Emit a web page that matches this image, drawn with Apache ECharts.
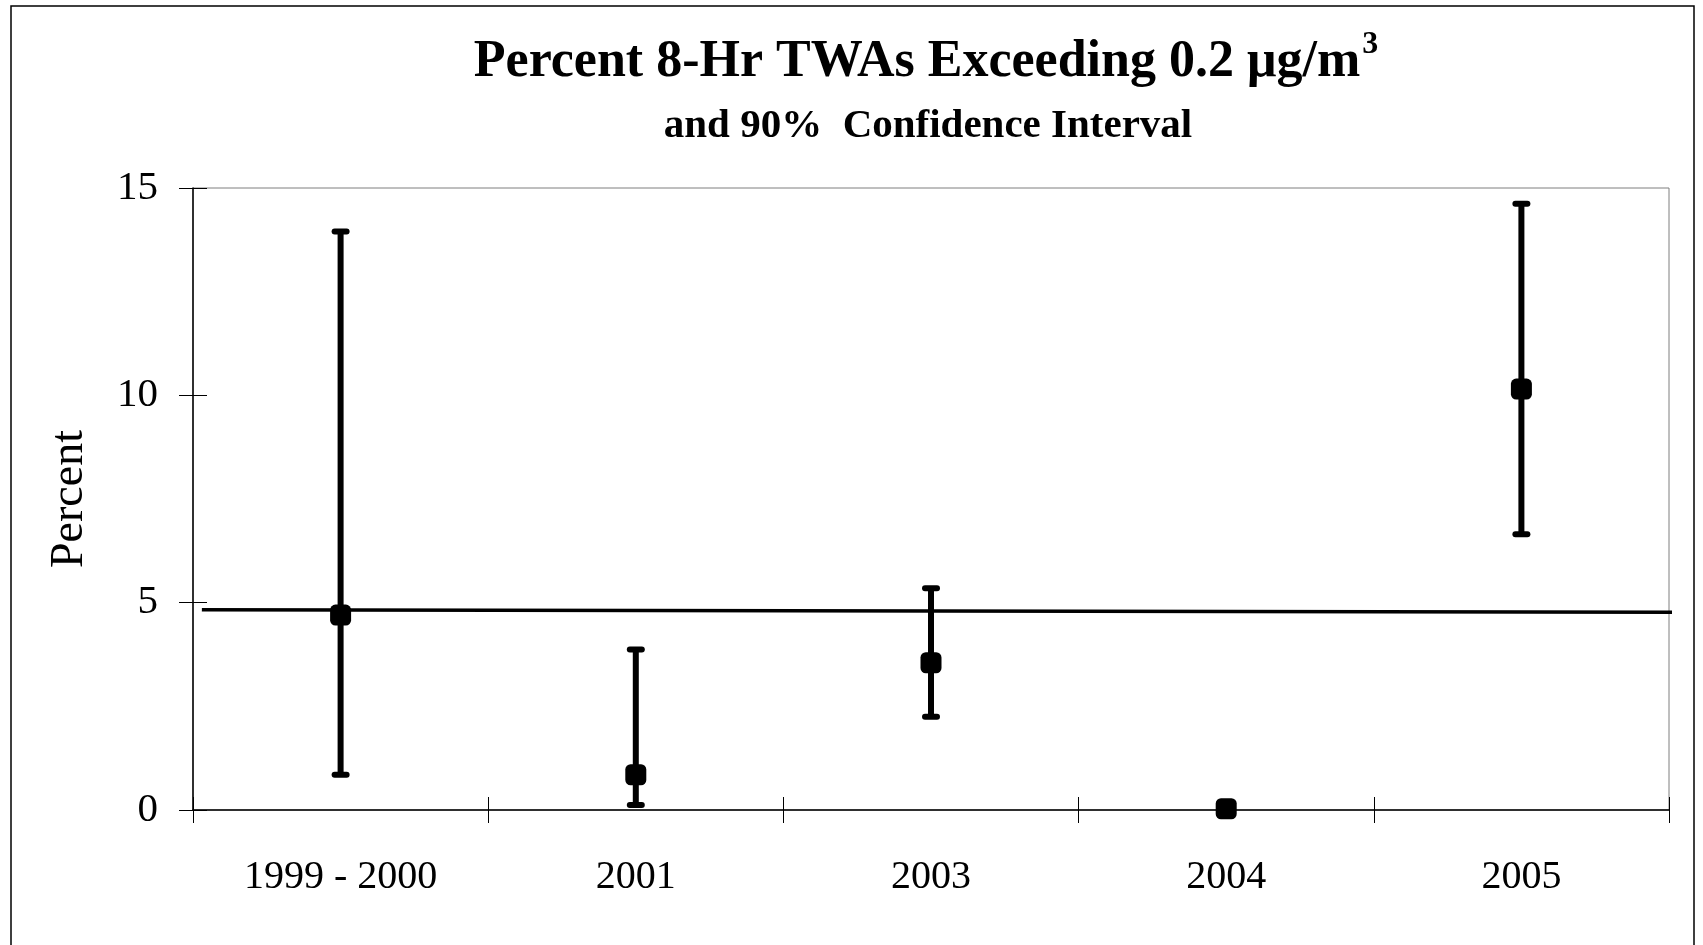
<!DOCTYPE html>
<html><head><meta charset="utf-8">
<script src="https://cdn.jsdelivr.net/npm/echarts@6/dist/echarts.min.js"></script>
<style>html,body{margin:0;padding:0;background:#fff}#c{width:1703px;height:945px}</style>
</head><body><div id="c"></div>
<script>
const categories = ['1999 - 2000', '2001', '2003', '2004', '2005'];
const estimate = [4.7, 0.85, 3.55, 0.03, 10.15];
const lower = [0.85, 0.12, 2.25, null, 6.65];
const upper = [13.95, 3.87, 5.35, null, 14.62];
const yTicks = [0, 5, 10, 15];
const refLineX = [0.03, 5.04];
const refLineY = [4.83, 4.77];

const FONT = '"Liberation Serif", "Times New Roman", serif';
const chart = echarts.init(document.getElementById('c'), null, {renderer: 'canvas'});

const grid = {left: 193, right: 34, top: 188, bottom: 135};
const errData = [];
categories.forEach((c, i) => { if (lower[i] != null) errData.push([i, lower[i], upper[i]]); });

chart.setOption({
  backgroundColor: '#fff',
  animation: false,
  grid: Object.assign({show: true, borderColor: '#7f7f7f', borderWidth: 1, outerBoundsMode: 'none', containLabel: false}, grid),
  graphic: [
    {type: 'rect', shape: {x: 11, y: 6, width: 1683, height: 960}, style: {fill: 'none', stroke: '#000', lineWidth: 1.5}, silent: true, z: -1},
    {type: 'text', x: 926, y: 29, style: {
      text: '{m|Percent 8-Hr TWAs Exceeding 0.2 μg/m}{s|3}', align: 'center', verticalAlign: 'top',
      fontSize: 52, fontWeight: 'bold', fontFamily: FONT, fill: '#000',
      rich: {
        m: {fontSize: 52, fontWeight: 'bold', fontFamily: FONT, fill: '#000', verticalAlign: 'bottom', lineHeight: 60},
        s: {fontSize: 32, fontWeight: 'bold', fontFamily: FONT, fill: '#000', verticalAlign: 'top', lineHeight: 32, padding: [0, 0, 0, 2]}
      }
    }},
    {type: 'text', x: 928, y: 106, style: {
      text: 'and 90%  Confidence Interval', align: 'center', verticalAlign: 'top',
      font: 'bold 41px ' + FONT, fill: '#000'
    }}
  ],
  xAxis: [
    {type: 'category', data: categories, boundaryGap: true,
      axisLine: {lineStyle: {color: '#000', width: 1.5}},
      axisTick: {show: true, length: 13, lineStyle: {color: '#000'}},
      axisLabel: {color: '#000', fontFamily: FONT, fontSize: 40, margin: 47},
      splitLine: {show: false}},
    {type: 'value', min: 0, max: 5, show: false},
    {type: 'category', data: categories, boundaryGap: true, position: 'bottom',
      axisLine: {show: false}, axisLabel: {show: false},
      axisTick: {show: true, inside: true, length: 13, lineStyle: {color: '#000'}}, splitLine: {show: false}}
  ],
  yAxis: [
    {type: 'value', min: 0, max: 15, interval: 5, position: 'left',
      name: 'Percent', nameLocation: 'middle', nameGap: 100, nameRotate: 90,
      nameTextStyle: {color: '#000', fontFamily: FONT, fontSize: 46},
      axisLine: {show: true, lineStyle: {color: '#000', width: 1.5}},
      axisTick: {show: true, length: 14, lineStyle: {color: '#000'}},
      axisLabel: {color: '#000', fontFamily: FONT, fontSize: 41, margin: 35,
        formatter: v => yTicks.includes(v) ? String(v) : ''},
      splitLine: {show: false}},
    {type: 'value', min: 0, max: 15, interval: 5, position: 'left',
      axisLine: {show: false}, axisLabel: {show: false},
      axisTick: {show: true, inside: true, length: 14, lineStyle: {color: '#000'}}, splitLine: {show: false}}
  ],
  series: [
    {type: 'line', xAxisIndex: 1, yAxisIndex: 0, clip: false, symbol: 'none',
      data: refLineX.map((x, i) => [x, refLineY[i]]),
      lineStyle: {color: '#000', width: 3.5, opacity: 1}, z: 2},
    {type: 'custom', xAxisIndex: 0, yAxisIndex: 0, data: errData, encode: {x: 0, y: [1, 2]}, z: 3,
      renderItem: (params, api) => {
        const x = api.value(0);
        const pLo = api.coord([x, api.value(1)]);
        const pHi = api.coord([x, api.value(2)]);
        const cap = 6;
        const st = {stroke: '#000', lineWidth: 6};
        const cs = {stroke: '#000', lineWidth: 6, lineCap: 'round'};
        return {type: 'group', children: [
          {type: 'line', shape: {x1: pLo[0], y1: pLo[1], x2: pHi[0], y2: pHi[1]}, style: st},
          {type: 'line', shape: {x1: pHi[0] - cap, y1: pHi[1], x2: pHi[0] + cap, y2: pHi[1]}, style: cs},
          {type: 'line', shape: {x1: pLo[0] - cap, y1: pLo[1], x2: pLo[0] + cap, y2: pLo[1]}, style: cs}
        ]};
      }},
    {type: 'scatter', xAxisIndex: 0, yAxisIndex: 0, data: estimate, symbol: 'roundRect', symbolSize: 21,
      itemStyle: {color: '#000', opacity: 1}, z: 4}
  ]
});
</script></body></html>
